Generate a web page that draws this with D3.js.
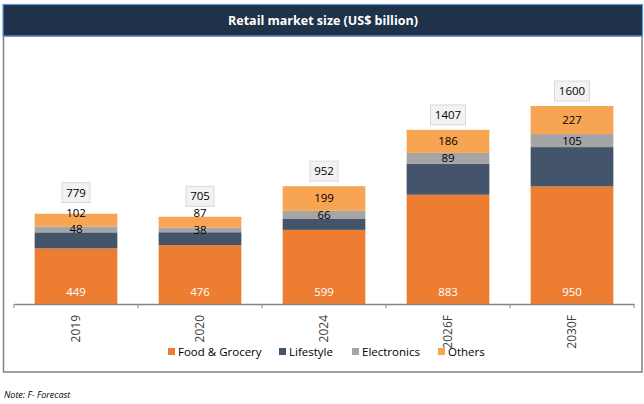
<!DOCTYPE html>
<html>
<head>
<meta charset="utf-8">
<script src="https://cdn.jsdelivr.net/npm/d3@7"></script>
<style>
  body { margin: 0; background: #fff; }
  text { font-family: "Open Sans", "Noto Sans", sans-serif; }
</style>
</head>
<body>
<div id="chart-area"></div>
<script>
// data
const years = ["2019", "2020", "2024", "2026F", "2030F"];
const food = [449, 476, 599, 883, 950];
const lifestyle = [130, 104, 88, 249, 318];
const electronics = [48, 38, 66, 89, 105];
const others = [102, 87, 199, 186, 227];
const totals = [779, 705, 952, 1407, 1600];

const seriesNames = ["Food & Grocery", "Lifestyle", "Electronics", "Others"];
const colors = ["#ED7D31", "#44546A", "#A5A5A5", "#F7A552"];

const W = 644, H = 404;
const axisY = 304;

const svg = d3.select("#chart-area")
    .append("svg")
    .attr("width", W)
    .attr("height", H);

// chart frame
svg.append("rect")
    .attr("x", 3.5).attr("y", 36)
    .attr("width", 638.5).attr("height", 336)
    .attr("fill", "#fff")
    .attr("stroke", "#808080")
    .attr("stroke-width", 1.5);

// title bar
svg.append("rect")
    .attr("x", 3).attr("y", 4.5)
    .attr("width", 639.5).attr("height", 31.5)
    .attr("fill", "#203249")
    .attr("stroke", "#5B9BD5")
    .attr("stroke-width", 1.2);

svg.append("text")
    .attr("x", 323).attr("y", 25)
    .attr("text-anchor", "middle")
    .attr("fill", "#fff")
    .attr("font-size", "12.5px")
    .attr("font-weight", "bold")
    .text("Retail market size (US$ billion)");

// stacked table built from the arrays
const table = years.map((y, i) => ({
    year: y,
    "Food & Grocery": food[i],
    "Lifestyle": lifestyle[i],
    "Electronics": electronics[i],
    "Others": others[i],
    total: totals[i]
}));

const x = d3.scaleBand()
    .domain(years)
    .range([14, 634])
    .paddingInner(0.333)
    .paddingOuter(0.1665);

const y = d3.scaleLinear()
    .domain([0, 1600])
    .range([axisY, 106]);

const stack = d3.stack().keys(seriesNames)(table);

const layers = svg.selectAll("g.layer")
    .data(stack)
    .enter()
    .append("g")
    .attr("class", "layer")
    .attr("fill", (d, i) => colors[i]);

layers.selectAll("rect")
    .data(d => d)
    .enter()
    .append("rect")
    .attr("x", d => x(d.data.year))
    .attr("y", d => y(d[1]))
    .attr("width", x.bandwidth())
    .attr("height", d => y(d[0]) - y(d[1]));

// x axis
const xAxis = d3.axisBottom(x).tickSize(0).tickFormat("");
const gx = svg.append("g")
    .attr("transform", "translate(0," + axisY + ")")
    .call(xAxis);
gx.select(".domain").attr("stroke", "#868686").attr("stroke-width", 1.3);

// category boundary ticks
const step = x.step();
gx.selectAll("line.sep")
    .data(d3.range(years.length + 1))
    .enter()
    .append("line")
    .attr("class", "sep")
    .attr("x1", i => 14 + i * step)
    .attr("x2", i => 14 + i * step)
    .attr("y1", 0).attr("y2", 4)
    .attr("stroke", "#868686");

// rotated year labels
svg.selectAll("text.year")
    .data(years)
    .enter()
    .append("text")
    .attr("class", "year")
    .attr("transform", d => "translate(" + (x(d) + x.bandwidth() / 2 + 4) + ",315) rotate(-90)")
    .attr("text-anchor", "end")
    .attr("font-family", "Liberation Sans, Arial, sans-serif")
    .attr("font-size", "12px")
    .attr("fill", "#404040")
    .text(d => d);

// food labels, inside base, white
svg.selectAll("text.food")
    .data(table)
    .enter()
    .append("text")
    .attr("class", "food")
    .attr("x", d => x(d.year) + x.bandwidth() / 2)
    .attr("y", axisY - 8)
    .attr("text-anchor", "middle")
    .attr("font-size", "11.5px")
    .attr("fill", "#fff")
    .text(d => d["Food & Grocery"]);

// label centres: electronics centred, others pushed up when the segments are thin
const mid = d => (y(d[0]) + y(d[1])) / 2;
const elecY = stack[2].map(mid);
const othY = stack[3].map((d, i) => Math.min(mid(d), elecY[i] - 16.5));
const boxY = table.map((d, i) => Math.min(y(d.total) - 15, othY[i] - 17));

[[2, elecY], [3, othY]].forEach(([k, pos]) => {
    svg.selectAll("text.lab" + k)
        .data(stack[k])
        .enter()
        .append("text")
        .attr("class", "lab" + k)
        .attr("x", d => x(d.data.year) + x.bandwidth() / 2)
        .attr("y", (d, i) => pos[i] + 4)
        .attr("text-anchor", "middle")
        .attr("font-size", "11.5px")
        .attr("fill", "#000")
        .text(d => d[1] - d[0]);
});

// total boxes
const boxes = svg.selectAll("g.total")
    .data(table)
    .enter()
    .append("g")
    .attr("class", "total")
    .attr("transform", (d, i) => "translate(" + (x(d.year) + x.bandwidth() / 2) + "," + boxY[i] + ")");

boxes.append("rect")
    .attr("x", d => d.total >= 1000 ? -17.5 : -14)
    .attr("y", -10)
    .attr("width", d => d.total >= 1000 ? 35 : 28)
    .attr("height", 20)
    .attr("fill", "#F2F2F2")
    .attr("stroke", "#D9D9D9");

boxes.append("text")
    .attr("y", 4)
    .attr("text-anchor", "middle")
    .attr("font-size", "11.5px")
    .attr("fill", "#000")
    .text(d => d.total);

// legend
const legendX = [168, 279, 352, 438];
const legend = svg.selectAll("g.legend")
    .data(seriesNames)
    .enter()
    .append("g")
    .attr("class", "legend")
    .attr("transform", (d, i) => "translate(" + legendX[i] + ",348)");

legend.append("rect")
    .attr("width", 7).attr("height", 7)
    .attr("fill", (d, i) => colors[i]);

legend.append("text")
    .attr("x", 10).attr("y", 8)
    .attr("font-size", "11.5px")
    .attr("fill", "#000")
    .text(d => d);

// note
svg.append("text")
    .attr("x", 4).attr("y", 398)
    .attr("font-size", "9px")
    .attr("font-style", "italic")
    .attr("fill", "#000")
    .text("Note: F- Forecast");
</script>
</body>
</html>
